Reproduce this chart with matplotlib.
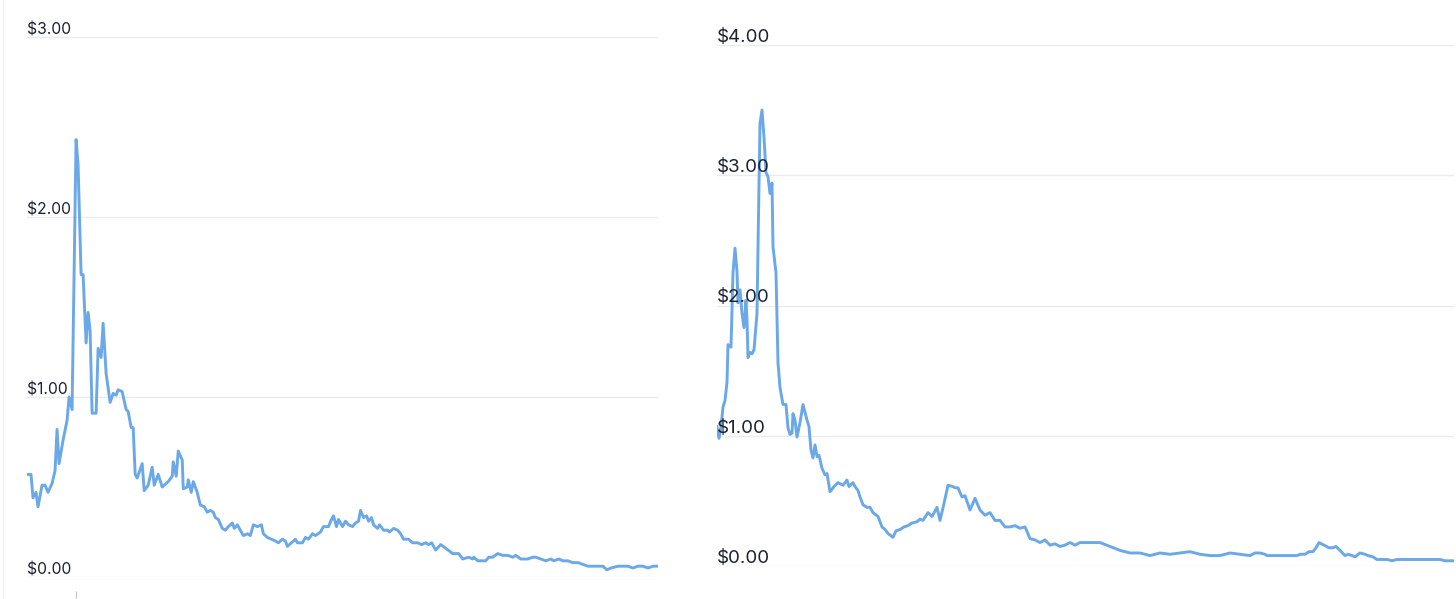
import numpy as np
import matplotlib
matplotlib.use('Agg')
import matplotlib.pyplot as plt
from matplotlib.lines import Line2D
import matplotlib.transforms as mtransforms

plt.rcParams['font.family'] = ['Inter', 'DejaVu Sans']

# left chart: day index and price (USD)
left_t = [0, 4, 6, 9, 11, 15, 18, 21, 25, 28, 30, 32, 36, 40, 42, 45, 49, 51, 54, 56,
          59, 61, 63, 65, 69, 71, 74, 76, 79, 83, 86, 89, 91, 95, 99, 101, 104, 106, 108, 110,
          115, 117, 121, 125, 127, 131, 135, 141, 145, 146, 149, 151, 155, 156, 160, 161, 164, 166, 170, 173,
          177, 180, 183, 186, 188, 191, 195, 198, 201, 205, 207, 210, 213, 216, 220, 223, 226, 230, 234, 236,
          240, 244, 248, 251, 255, 258, 260, 264, 268, 270, 275, 278, 281, 285, 288, 293, 296, 301, 304, 306,
          309, 311, 315, 318, 321, 325, 328, 331, 333, 336, 339, 341, 344, 346, 350, 352, 356, 360, 362, 366,
          370, 373, 376, 381, 385, 390, 394, 398, 401, 404, 408, 413, 418, 425, 431, 435, 441, 445, 446, 450,
          458, 461, 465, 470, 475, 480, 485, 488, 493, 500, 505, 508, 513, 518, 523, 526, 531, 535, 540, 545,
          550, 555, 560, 565, 570, 575, 579, 583, 590, 596, 600, 605, 610, 615, 620, 625, 630]
left_price = [0.57, 0.57, 0.44, 0.47, 0.39, 0.51, 0.51, 0.47, 0.52, 0.59, 0.82, 0.63, 0.76, 0.87, 1.00, 0.93, 2.43, 2.29, 1.68, 1.68,
              1.30, 1.47, 1.37, 0.91, 0.91, 1.27, 1.22, 1.41, 1.13, 0.97, 1.02, 1.01, 1.04, 1.03, 0.93, 0.92, 0.83, 0.83, 0.57, 0.55,
              0.63, 0.48, 0.51, 0.61, 0.51, 0.57, 0.50, 0.53, 0.56, 0.64, 0.56, 0.70, 0.65, 0.49, 0.50, 0.54, 0.47, 0.53, 0.47, 0.40,
              0.39, 0.36, 0.37, 0.36, 0.33, 0.32, 0.27, 0.26, 0.28, 0.30, 0.27, 0.29, 0.26, 0.23, 0.24, 0.23, 0.29, 0.28, 0.29, 0.24,
              0.22, 0.21, 0.20, 0.19, 0.21, 0.20, 0.17, 0.19, 0.21, 0.19, 0.19, 0.22, 0.21, 0.24, 0.23, 0.25, 0.28, 0.28, 0.32, 0.34,
              0.28, 0.32, 0.28, 0.31, 0.29, 0.28, 0.30, 0.31, 0.37, 0.33, 0.34, 0.31, 0.33, 0.29, 0.27, 0.29, 0.26, 0.26, 0.25, 0.27,
              0.26, 0.24, 0.21, 0.21, 0.19, 0.19, 0.18, 0.19, 0.18, 0.19, 0.15, 0.18, 0.16, 0.13, 0.13, 0.10, 0.11, 0.10, 0.11, 0.09,
              0.09, 0.11, 0.11, 0.13, 0.12, 0.12, 0.11, 0.12, 0.10, 0.10, 0.11, 0.11, 0.10, 0.09, 0.10, 0.09, 0.10, 0.09, 0.09, 0.08,
              0.08, 0.07, 0.06, 0.06, 0.06, 0.06, 0.04, 0.05, 0.06, 0.06, 0.06, 0.05, 0.06, 0.06, 0.05, 0.06, 0.06]
left_ticks = [0, 1, 2, 3]
left_tick_labels = ['$0.00', '$1.00', '$2.00', '$3.00']

# right chart
right_t = [0, 2, 4, 6, 8, 10, 11, 14, 16, 18, 20, 21, 23, 25, 27, 29, 30, 31, 33, 35,
           37, 40, 41, 43, 45, 47, 49, 51, 53, 55, 56, 59, 61, 63, 66, 69, 71, 73, 75, 76,
           78, 80, 83, 86, 90, 92, 94, 96, 98, 100, 102, 105, 108, 110, 113, 117, 121, 126, 130, 132,
           136, 138, 141, 143, 146, 150, 153, 156, 161, 165, 168, 171, 176, 179, 183, 187, 191, 195, 200, 203,
           206, 211, 215, 220, 223, 227, 231, 236, 238, 241, 245, 248, 253, 258, 263, 268, 273, 278, 283, 288,
           293, 298, 303, 308, 313, 318, 323, 328, 333, 338, 343, 348, 353, 358, 363, 373, 383, 393, 403, 413,
           423, 433, 443, 453, 463, 473, 483, 493, 503, 513, 523, 533, 538, 543, 548, 550, 556, 563, 570, 576,
           580, 583, 588, 592, 596, 599, 602, 607, 612, 616, 619, 623, 628, 631, 635, 638, 643, 648, 651, 656,
           660, 665, 670, 675, 680, 685, 690, 695, 700, 705, 710, 718, 723, 728, 733, 737]
right_price = [1.07, 0.98, 1.07, 1.22, 1.27, 1.41, 1.70, 1.68, 2.25, 2.44, 2.26, 2.02, 2.12, 1.94, 1.83, 2.04, 1.89, 1.60, 1.64, 1.63,
               1.66, 1.94, 2.45, 3.40, 3.50, 3.29, 3.02, 2.99, 2.86, 2.94, 2.45, 2.25, 1.56, 1.37, 1.24, 1.24, 1.06, 1.01, 1.02, 1.17,
               1.12, 0.99, 1.10, 1.24, 1.12, 1.07, 0.89, 0.83, 0.93, 0.84, 0.85, 0.75, 0.70, 0.71, 0.57, 0.61, 0.64, 0.62, 0.66, 0.61,
               0.64, 0.61, 0.58, 0.53, 0.47, 0.45, 0.45, 0.41, 0.38, 0.30, 0.28, 0.25, 0.22, 0.27, 0.28, 0.30, 0.31, 0.33, 0.34, 0.36,
               0.35, 0.41, 0.38, 0.45, 0.35, 0.48, 0.62, 0.61, 0.60, 0.60, 0.53, 0.54, 0.43, 0.52, 0.43, 0.39, 0.41, 0.35, 0.35, 0.30,
               0.30, 0.31, 0.29, 0.30, 0.21, 0.20, 0.18, 0.20, 0.16, 0.17, 0.15, 0.16, 0.18, 0.16, 0.18, 0.18, 0.18, 0.15, 0.12, 0.10,
               0.10, 0.08, 0.10, 0.09, 0.10, 0.11, 0.09, 0.08, 0.08, 0.10, 0.09, 0.08, 0.10, 0.10, 0.09, 0.08, 0.08, 0.08, 0.08, 0.08,
               0.08, 0.09, 0.09, 0.11, 0.11, 0.14, 0.18, 0.16, 0.14, 0.14, 0.15, 0.12, 0.08, 0.09, 0.08, 0.07, 0.10, 0.09, 0.08, 0.07,
               0.05, 0.05, 0.05, 0.04, 0.05, 0.05, 0.05, 0.05, 0.05, 0.05, 0.05, 0.05, 0.05, 0.04, 0.04, 0.04]
right_ticks = [0, 1, 2, 3, 4]
right_tick_labels = ['$0.00', '$1.00', '$2.00', '$3.00', '$4.00']

LINE = '#6aa8e8'
GRID = '#ebebef'
TXT = '#1d2233'

W, H = 1456, 599
fig = plt.figure(figsize=(W / 100, H / 100), dpi=100)
fig.patch.set_facecolor('white')


def panel(rect, t, price, ticks, labels, fs):
    ax = fig.add_axes(rect)
    ax.plot(t, price, color=LINE, lw=2.1, solid_joinstyle='round')
    ax.set_xlim(t[0], t[-1])
    ax.set_ylim(ticks[0], ticks[-1])
    for s in ax.spines.values():
        s.set_visible(False)
    ax.set_yticks(ticks)
    ax.yaxis.grid(True, color=GRID, lw=1.0)
    ax.set_axisbelow(True)
    ax.tick_params(axis='y', length=0, labelleft=False)
    trans = mtransforms.blended_transform_factory(ax.transAxes, ax.transData)
    for v, lab in zip(ticks, labels):
        ax.annotate(lab, (0, v), xycoords=trans, xytext=(0, 3), textcoords='offset pixels',
                    ha='left', va='baseline', fontsize=fs, color=TXT, clip_on=False)
    return ax


axl = panel([27 / W, 1 - 577 / H, 631 / W, 540 / H], left_t, left_price, left_ticks, left_tick_labels, 11.3)
axr = panel([717 / W, 1 - 566 / H, 737 / W, 521 / H], right_t, right_price, right_ticks, right_tick_labels, 13.5)

# single x tick under the left chart, at the peak
peak = left_t[int(np.argmax(left_price))]
axl.spines['bottom'].set_position(('outward', 10))
axl.set_xticks([peak])
axl.tick_params(axis='x', length=5, width=0.8, color='#c4c4c8', labelbottom=False)
axr.set_xticks([])

fig.add_artist(Line2D([3 / W, 3 / W], [0, 1], color='#f2f2f2', lw=1))

fig.savefig('out.png', dpi=100, facecolor='white')
